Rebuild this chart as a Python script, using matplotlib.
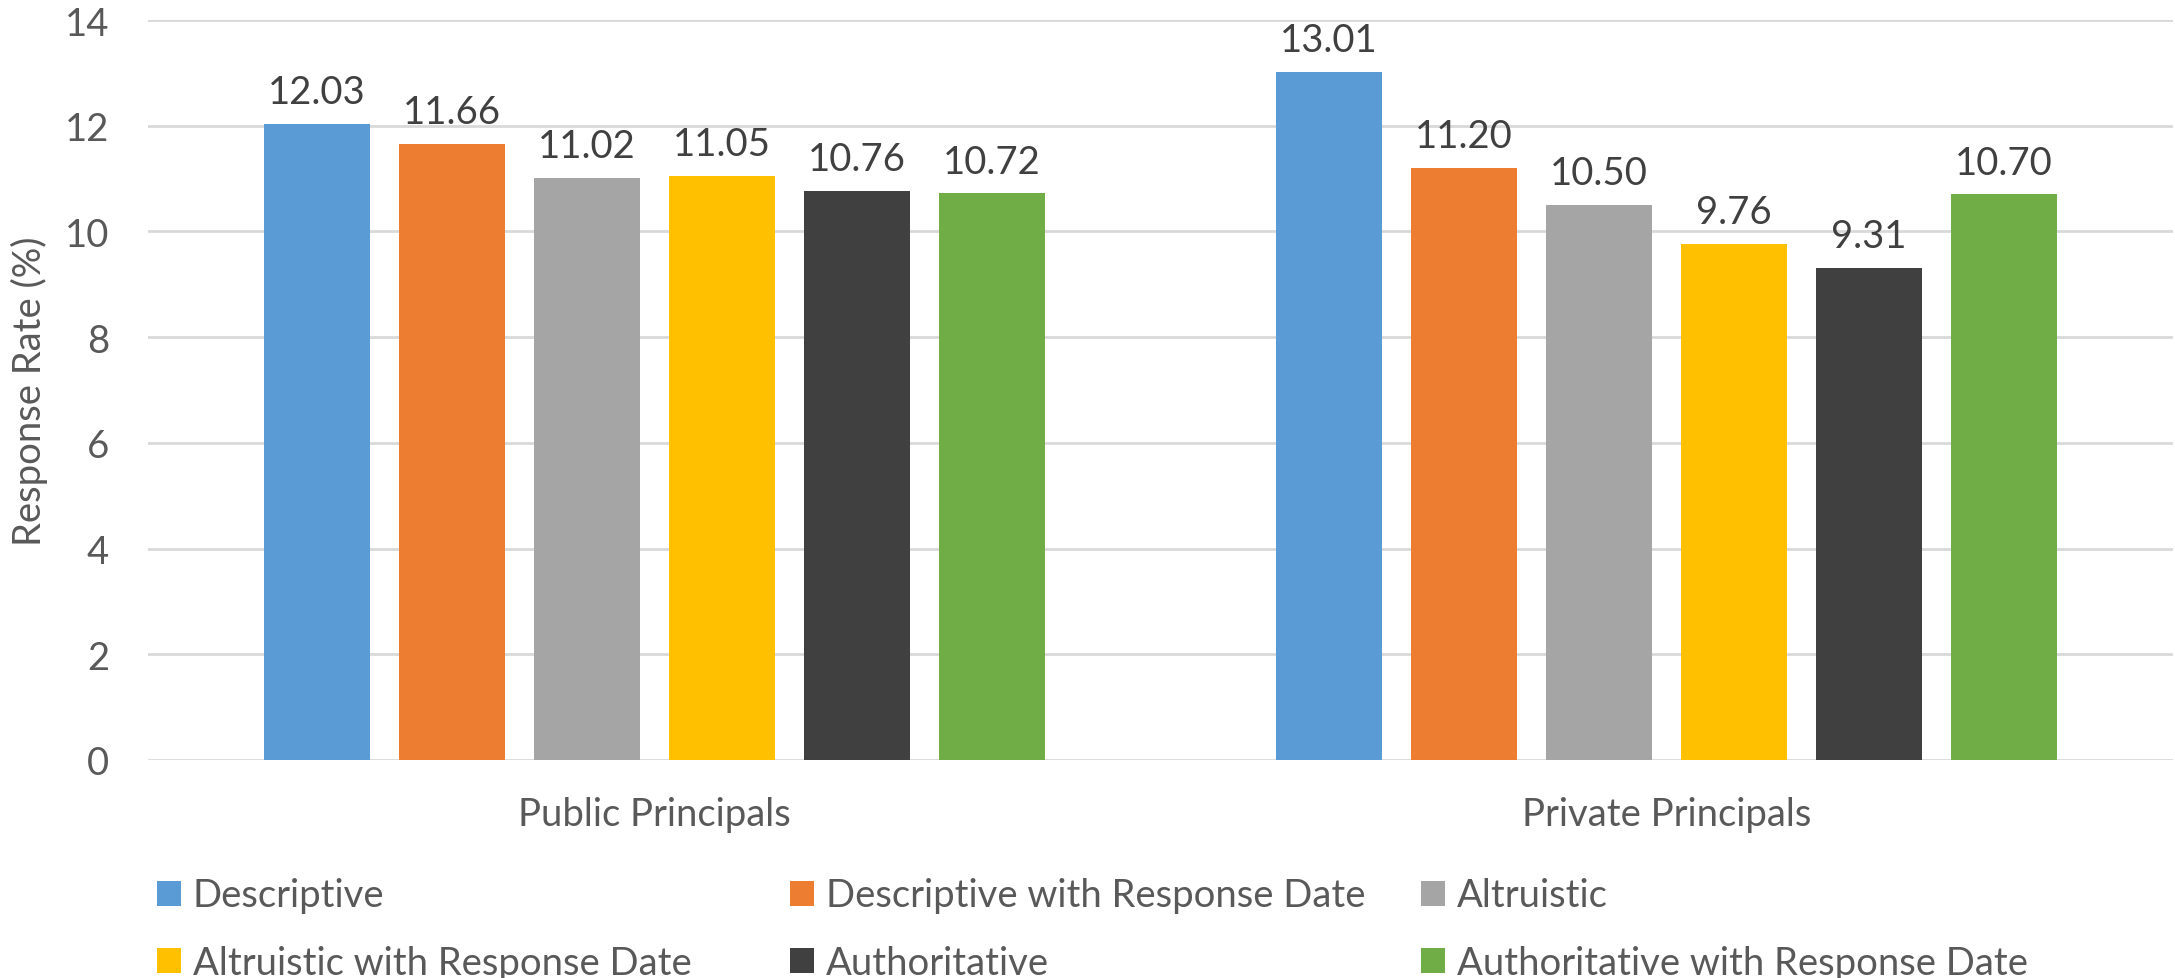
import numpy as np
import matplotlib.pyplot as plt
from matplotlib.patches import Patch

plt.rcParams['font.family'] = ['Lato', 'DejaVu Sans']

groups = ['Public Principals', 'Private Principals']
series = ['Descriptive', 'Descriptive with Response Date', 'Altruistic',
          'Altruistic with Response Date', 'Authoritative',
          'Authoritative with Response Date']
public_rates = [12.03, 11.66, 11.02, 11.05, 10.76, 10.72]
private_rates = [13.01, 11.20, 10.50, 9.76, 9.31, 10.70]
colors = ['#5B9BD5', '#ED7D31', '#A5A5A5', '#FFC000', '#404040', '#70AD47']
yticks = [0, 2, 4, 6, 8, 10, 12, 14]

fs = 27.5

fig = plt.figure(figsize=(21.75, 9.79), dpi=100)
ax = fig.add_axes([0.068, 0.2227, 0.931, 0.7558])

x = np.arange(len(groups))
width = 0.1047
step = 0.1333
offsets = (np.arange(len(series)) - 2.5) * step

for i, name in enumerate(series):
    vals = [public_rates[i], private_rates[i]]
    bars = ax.bar(x + offsets[i], vals, width, color=colors[i], label=name,
                  zorder=3)
    ax.bar_label(bars, labels=[f'{v:.2f}' for v in vals], padding=10,
                 fontsize=fs, color='#404040')

ax.set_xlim(-0.5, 1.5)
ax.set_ylim(0, 14)
ax.set_yticks(yticks)
ax.set_xticks(x)
ax.set_xticklabels(groups)
ax.tick_params(axis='both', length=0, labelsize=fs, labelcolor='#595959')
ax.tick_params(axis='y', pad=28)
ax.tick_params(axis='x', pad=26)
ax.grid(axis='y', color='#D9D9D9', linewidth=2, zorder=0)
for s in ax.spines.values():
    s.set_visible(False)
ax.set_ylabel('Response Rate (%)', fontsize=fs, color='#595959', labelpad=12)

# legend laid out in three equal columns, filled row by row
handles = [Patch(facecolor=c) for c in colors]
col_x = [153 / 2175, 786 / 2175, 1417 / 2175]
for col in range(3):
    idx = [col, col + 3]
    fig.legend([handles[j] for j in idx], [series[j] for j in idx],
               loc='upper left', bbox_to_anchor=(col_x[col] - 0.0105, 0.130),
               frameon=False, fontsize=fs, labelcolor='#595959',
               handlelength=0.63, handleheight=0.63, handletextpad=0.31,
               labelspacing=0.82, borderpad=0.2)

fig.savefig('out.png', dpi=100, facecolor='white')
